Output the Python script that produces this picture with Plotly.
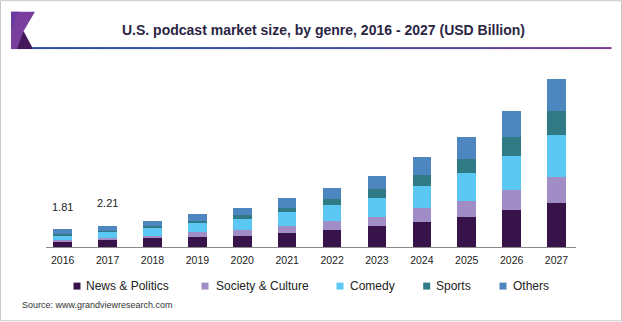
import plotly.graph_objects as go

# ---------------- data ----------------
years = ["2016", "2017", "2018", "2019", "2020", "2021",
         "2022", "2023", "2024", "2025", "2026", "2027"]
news_politics = [0.55, 0.68, 0.89, 0.99, 1.16, 1.40, 1.78, 2.15, 2.56, 3.12, 3.76, 4.48]
society_culture = [0.20, 0.27, 0.28, 0.51, 0.62, 0.72, 0.85, 0.98, 1.40, 1.64, 2.15, 2.74]
comedy = [0.45, 0.63, 0.75, 0.95, 1.10, 1.44, 1.64, 1.88, 2.26, 2.87, 3.49, 4.34]
sports = [0.10, 0.09, 0.24, 0.21, 0.41, 0.44, 0.62, 0.95, 1.16, 1.44, 1.92, 2.39]
others = [0.51, 0.54, 0.54, 0.75, 0.75, 1.03, 1.20, 1.37, 1.85, 2.22, 2.62, 3.32]
series_names = ["News & Politics", "Society & Culture", "Comedy", "Sports", "Others"]
label_years = ["2016", "2017"]
label_texts = ["1.81", "2.21"]
title_text = "U.S. podcast market size, by genre, 2016 - 2027 (USD Billion)"
source_text = "Source: www.grandviewresearch.com"

# ---------------- styles ----------------
colors = ["#38134a", "#a18dc5", "#5ac8f2", "#307a86", "#4e87bf"]
W, H = 622, 322
PL, PR, PT, PB = 46, 576, 75, 247.5   # plot area in pixels
FONT = "Arial, Liberation Sans, sans-serif"


def px2x(px):
    return (px - PL) / (PR - PL)


def py2y(py):
    return (PB - py) / (PB - PT)


fig = go.Figure()
for name, vals, col in zip(series_names,
                           [news_politics, society_culture, comedy, sports, others],
                           colors):
    fig.add_trace(go.Bar(x=years, y=vals, name=name, marker_color=col,
                         marker_line_width=0, width=0.415, showlegend=False))

totals = [sum(v) for v in zip(news_politics, society_culture, comedy, sports, others)]

annotations = []
for yr, txt in zip(label_years, label_texts):
    i = years.index(yr)
    annotations.append(dict(x=i, y=totals[i], xref="x", yref="y", text=txt,
                            showarrow=False, yanchor="middle", yshift=22.5,
                            font=dict(family=FONT, size=11, color="#222222")))

# custom legend
leg_sq_cx = [77, 205, 340, 426.7, 503]
leg_tx = [83.5, 213.5, 347.5, 434, 511]
leg_cy = 286.7
shapes = []
for name, col, cx, tx in zip(series_names, colors, leg_sq_cx, leg_tx):
    shapes.append(dict(type="rect", xref="paper", yref="paper",
                       x0=px2x(cx - 3.5), x1=px2x(cx + 3.5),
                       y0=py2y(leg_cy + 3.5), y1=py2y(leg_cy - 3.5),
                       fillcolor=col, line=dict(width=0)))
    annotations.append(dict(x=px2x(tx), y=py2y(leg_cy), xref="paper", yref="paper",
                            text=name, showarrow=False, xanchor="left", yanchor="middle",
                            font=dict(family=FONT, size=12, color="#222222")))

annotations.append(dict(x=px2x(20), y=py2y(305.7), xref="paper", yref="paper",
                        text=source_text, showarrow=False, xanchor="left",
                        yanchor="middle", font=dict(family=FONT, size=9, color="#333333")))

# title
annotations.append(dict(x=px2x(323.9), y=py2y(29.5), xref="paper", yref="paper",
                        text="<b>" + title_text + "</b>", showarrow=False,
                        xanchor="center", yanchor="middle",
                        font=dict(family=FONT, size=14, color="#2b2544")))

# header gradient line
c0 = (0x2f, 0x52, 0xa6)
c1 = (0x7b, 0x3a, 0x96)
n = 40
x_start, x_end, ly = 11, 611, 48
for k in range(n):
    t = k / (n - 1)
    t2 = t ** 2.2
    col = "rgb(%d,%d,%d)" % tuple(int(a + (b - a) * t2) for a, b in zip(c0, c1))
    xa = x_start + (x_end - x_start) * k / n
    xb = x_start + (x_end - x_start) * (k + 1) / n
    shapes.append(dict(type="line", xref="paper", yref="paper",
                       x0=px2x(xa), x1=px2x(xb + 0.5), y0=py2y(ly), y1=py2y(ly),
                       line=dict(color=col, width=2)))

# logo
def path(points):
    s = "M " + " L ".join("%f,%f" % (px2x(a), py2y(b)) for a, b in points) + " Z"
    return s

shapes.append(dict(type="path", xref="paper", yref="paper",
                   path=path([(11, 11.5), (35, 11.5), (23.5, 31), (33, 49), (11, 49)]),
                   fillcolor="#7a3f9e", line=dict(width=0)))
shapes.append(dict(type="path", xref="paper", yref="paper",
                   path=path([(11, 11.5), (19, 11.5), (11, 30)]),
                   fillcolor="#6b3aa0", line=dict(width=0)))
shapes.append(dict(type="path", xref="paper", yref="paper",
                   path=path([(17, 49), (23.5, 31), (33, 49)]),
                   fillcolor="#44195a", line=dict(width=0)))

# outer border
shapes.append(dict(type="rect", xref="paper", yref="paper",
                   x0=px2x(0.5), x1=px2x(W - 0.5), y0=py2y(H - 0.5), y1=py2y(0.5),
                   line=dict(color="#c8c8c8", width=1), fillcolor="rgba(0,0,0,0)"))

fig.update_layout(
    width=W, height=H,
    margin=dict(l=PL, r=W - PR, t=PT, b=H - PB, pad=0),
    barmode="stack",
    plot_bgcolor="white", paper_bgcolor="white",
    showlegend=False,
    annotations=annotations,
    shapes=shapes,
    xaxis=dict(type="category", range=[-0.372, 11.434], showline=True,
               linecolor="#8a8a8a", linewidth=1, showgrid=False, zeroline=False,
               ticks="outside", ticklen=3, tickcolor="rgba(0,0,0,0)",
               tickfont=dict(family=FONT, size=10.5, color="#222222"), fixedrange=True),
    yaxis=dict(range=[0, 17.68], visible=False, showgrid=False, zeroline=False,
               fixedrange=True),
)

fig.write_html("out.html")
